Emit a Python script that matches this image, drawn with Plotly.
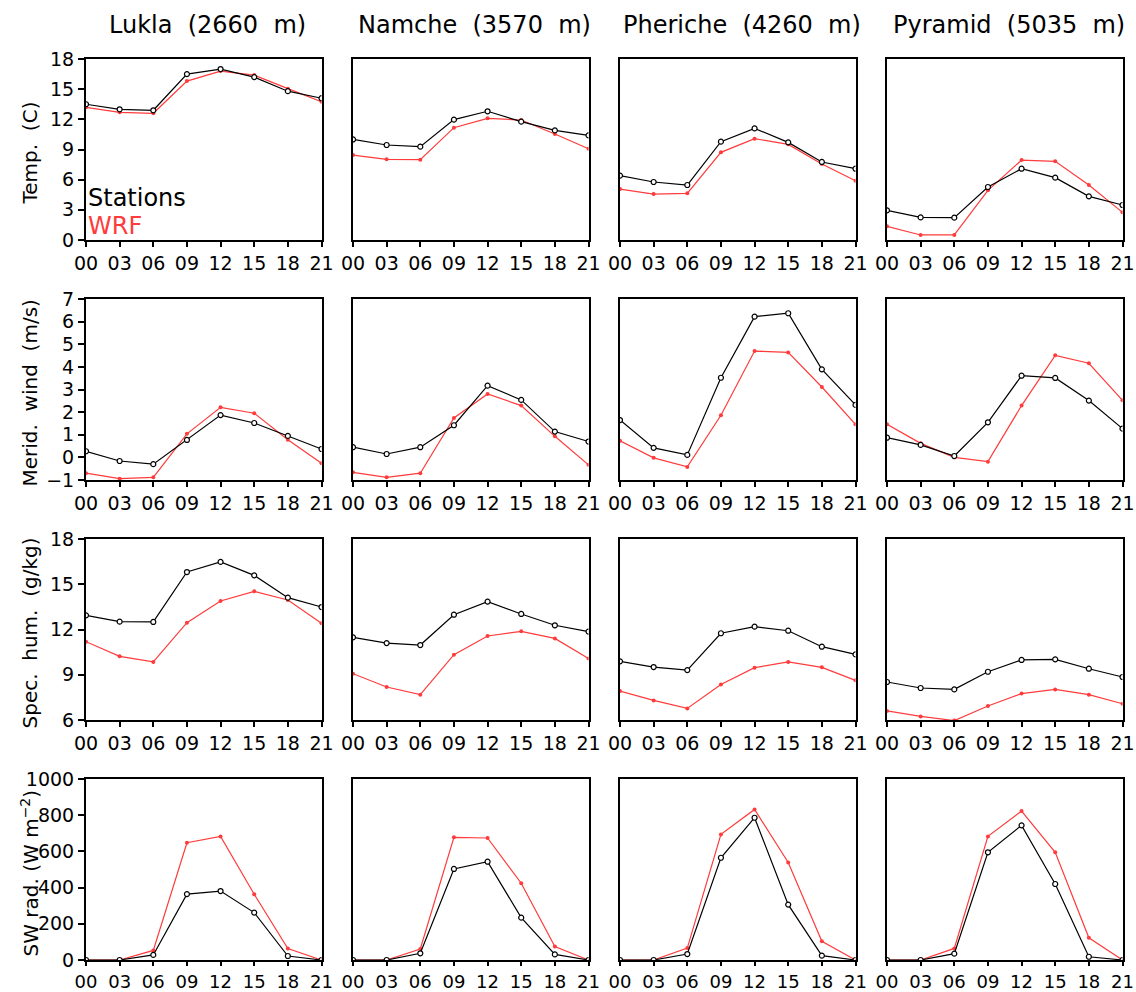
import plotly.graph_objects as go

hours = [0, 3, 6, 9, 12, 15, 18, 21]
hour_labels = ["00", "03", "06", "09", "12", "15", "18", "21"]
stations = ["Lukla (2660 m)", "Namche (3570 m)", "Pheriche (4260 m)", "Pyramid (5035 m)"]
row_titles = ["Temp. (C)", "Merid. wind (m/s)", "Spec. hum. (g/kg)", "SW rad. (W m<sup>\u22122</sup>)"]

# Temperature (C)
temp_obs_lukla = [13.5, 13.0, 12.9, 16.5, 17.0, 16.2, 14.8, 14.1]
temp_wrf_lukla = [13.2, 12.7, 12.6, 15.8, 16.8, 16.4, 15.05, 13.75]
temp_obs_namche = [10.0, 9.45, 9.28, 11.97, 12.8, 11.77, 10.9, 10.41]
temp_wrf_namche = [8.45, 8.02, 7.99, 11.17, 12.1, 11.93, 10.54, 9.08]
temp_obs_pheriche = [6.4, 5.77, 5.47, 9.78, 11.1, 9.71, 7.76, 7.09]
temp_wrf_pheriche = [5.07, 4.57, 4.64, 8.72, 10.08, 9.51, 7.56, 5.9]
temp_obs_pyramid = [2.95, 2.25, 2.22, 5.27, 7.09, 6.2, 4.34, 3.48]
temp_wrf_pyramid = [1.36, 0.5, 0.5, 4.94, 7.95, 7.82, 5.47, 2.75]

# Meridional wind (m/s)
wind_obs_lukla = [0.27, -0.16, -0.3, 0.77, 1.87, 1.52, 0.95, 0.37]
wind_wrf_lukla = [-0.7, -0.94, -0.88, 1.04, 2.21, 1.95, 0.78, -0.26]
wind_obs_namche = [0.45, 0.15, 0.45, 1.42, 3.17, 2.54, 1.14, 0.7]
wind_wrf_namche = [-0.66, -0.88, -0.7, 1.74, 2.8, 2.29, 0.93, -0.33]
wind_obs_pheriche = [1.65, 0.42, 0.11, 3.52, 6.22, 6.37, 3.89, 2.32]
wind_wrf_pheriche = [0.73, -0.02, -0.42, 1.86, 4.7, 4.64, 3.11, 1.46]
wind_obs_pyramid = [0.87, 0.55, 0.06, 1.55, 3.61, 3.51, 2.51, 1.27]
wind_wrf_pyramid = [1.46, 0.62, 0.0, -0.19, 2.29, 4.51, 4.16, 2.52]

# Specific humidity (g/kg)
hum_obs_lukla = [12.94, 12.52, 12.5, 15.81, 16.48, 15.59, 14.11, 13.49]
hum_wrf_lukla = [11.19, 10.22, 9.85, 12.45, 13.89, 14.53, 13.96, 12.41]
hum_obs_namche = [11.48, 11.1, 10.97, 12.98, 13.85, 13.03, 12.28, 11.86]
hum_wrf_namche = [9.07, 8.19, 7.68, 10.33, 11.57, 11.88, 11.41, 10.07]
hum_obs_pheriche = [9.89, 9.51, 9.31, 11.75, 12.19, 11.92, 10.86, 10.35]
hum_wrf_pheriche = [7.92, 7.3, 6.77, 8.36, 9.47, 9.85, 9.49, 8.63]
hum_obs_pyramid = [8.52, 8.12, 8.03, 9.2, 9.98, 10.02, 9.4, 8.85]
hum_wrf_pyramid = [6.6, 6.24, 5.96, 6.93, 7.75, 8.03, 7.68, 7.08]

# Shortwave radiation (W m-2)
sw_obs_lukla = [0, 0, 28, 364, 381, 262, 22, 0]
sw_wrf_lukla = [0, 0, 53, 648, 683, 363, 63, 0]
sw_obs_namche = [0, 0, 37, 503, 543, 234, 31, 0]
sw_wrf_namche = [0, 0, 61, 678, 674, 424, 74, 0]
sw_obs_pheriche = [0, 0, 33, 565, 786, 306, 24, 0]
sw_wrf_pheriche = [0, 0, 66, 694, 832, 539, 103, 0]
sw_obs_pyramid = [0, 0, 35, 595, 744, 420, 18, 0]
sw_wrf_pyramid = [0, 0, 64, 683, 823, 595, 123, 0]

obs = [
    [temp_obs_lukla, temp_obs_namche, temp_obs_pheriche, temp_obs_pyramid],
    [wind_obs_lukla, wind_obs_namche, wind_obs_pheriche, wind_obs_pyramid],
    [hum_obs_lukla, hum_obs_namche, hum_obs_pheriche, hum_obs_pyramid],
    [sw_obs_lukla, sw_obs_namche, sw_obs_pheriche, sw_obs_pyramid],
]
wrf = [
    [temp_wrf_lukla, temp_wrf_namche, temp_wrf_pheriche, temp_wrf_pyramid],
    [wind_wrf_lukla, wind_wrf_namche, wind_wrf_pheriche, wind_wrf_pyramid],
    [hum_wrf_lukla, hum_wrf_namche, hum_wrf_pheriche, hum_wrf_pyramid],
    [sw_wrf_lukla, sw_wrf_namche, sw_wrf_pheriche, sw_wrf_pyramid],
]
y_ranges = [[0, 18], [-1, 7], [6, 18], [0, 1000]]
y_ticks = [
    [0, 3, 6, 9, 12, 15, 18],
    [-1, 0, 1, 2, 3, 4, 5, 6, 7],
    [6, 9, 12, 15, 18],
    [0, 200, 400, 600, 800, 1000],
]
y_ticktext = [
    [str(v) for v in y_ticks[0]],
    ["\u22121"] + [str(v) for v in y_ticks[1][1:]],
    [str(v) for v in y_ticks[2]],
    [str(v) for v in y_ticks[3]],
]

W, H = 1136, 992
col_left = [86, 353, 620, 887]
panel_w = 235.5
row_top = [59, 299, 539, 779]
panel_h = 181


def px(X):
    return X / W


def py(Y):
    return 1 - Y / H


FONT = "DejaVu Sans"
RED = "#ff3b3b"

fig = go.Figure()
layout_axes = {}
for r in range(4):
    for c in range(4):
        idx = r * 4 + c + 1
        xa = "x" if idx == 1 else f"x{idx}"
        ya = "y" if idx == 1 else f"y{idx}"
        fig.add_trace(go.Scatter(
            x=hours, y=wrf[r][c], xaxis=xa, yaxis=ya, mode="lines+markers",
            line=dict(color=RED, width=1.2),
            marker=dict(color=RED, size=4, symbol="circle"),
            showlegend=False, hoverinfo="x+y"))
        fig.add_trace(go.Scatter(
            x=hours, y=obs[r][c], xaxis=xa, yaxis=ya, mode="lines+markers",
            line=dict(color="black", width=1.2),
            marker=dict(color="white", size=5, symbol="circle",
                        line=dict(color="black", width=1.2)),
            showlegend=False, hoverinfo="x+y"))
        xk = "xaxis" if idx == 1 else f"xaxis{idx}"
        yk = "yaxis" if idx == 1 else f"yaxis{idx}"
        last_row = r == 3
        layout_axes[xk] = dict(
            domain=[px(col_left[c]), px(col_left[c] + panel_w)], anchor=ya, range=[0, 21],
            tickvals=hours, ticktext=hour_labels, automargin=False,
            ticks="outside", ticklen=4 if last_row else 5, tickwidth=1.5, tickcolor="black",
            showline=True, linecolor="black", linewidth=2, mirror=True,
            showgrid=False, zeroline=False,
            tickfont=dict(family=FONT, size=18 if last_row else 19, color="black"))
        yaxis = dict(
            domain=[py(row_top[r] + panel_h), py(row_top[r])], anchor=xa, range=y_ranges[r],
            showline=True, linecolor="black", linewidth=2, mirror=True,
            showgrid=False, zeroline=False, automargin=False,
            tickfont=dict(family=FONT, size=19, color="black"))
        if c == 0:
            yaxis.update(tickvals=y_ticks[r], ticktext=y_ticktext[r],
                         ticks="outside", ticklen=6, tickwidth=1.5,
                         tickcolor="black", showticklabels=True)
        else:
            yaxis.update(showticklabels=False, ticks="")
        layout_axes[yk] = yaxis

annotations = []
for c, name in enumerate(stations):
    annotations.append(dict(
        text=name.replace(" ", "  "), xref="paper", yref="paper",
        x=px(col_left[c] + panel_w / 2 + 4), y=py(25),
        xanchor="center", yanchor="middle", showarrow=False,
        font=dict(family=FONT, size=24, color="black")))
for r, t in enumerate(row_titles):
    annotations.append(dict(
        text=t.replace(" ", "  ") if r < 3 else t, xref="paper", yref="paper",
        x=px(29), y=py(row_top[r] + panel_h / 2 + 4),
        xanchor="center", yanchor="middle", showarrow=False, textangle=-90,
        font=dict(family=FONT, size=20, color="black")))
annotations.append(dict(
    text="Stations", xref="paper", yref="paper",
    x=px(86), y=py(198), xanchor="left", yanchor="middle",
    showarrow=False, font=dict(family=FONT, size=24, color="black")))
annotations.append(dict(
    text="WRF", xref="paper", yref="paper",
    x=px(86), y=py(226), xanchor="left", yanchor="middle",
    showarrow=False, font=dict(family=FONT, size=24, color=RED)))

fig.update_layout(
    template="none",
    width=W, height=H, margin=dict(l=0, r=0, t=0, b=0, autoexpand=False),
    paper_bgcolor="white", plot_bgcolor="white",
    annotations=annotations, **layout_axes)

fig.write_html("out.html")
